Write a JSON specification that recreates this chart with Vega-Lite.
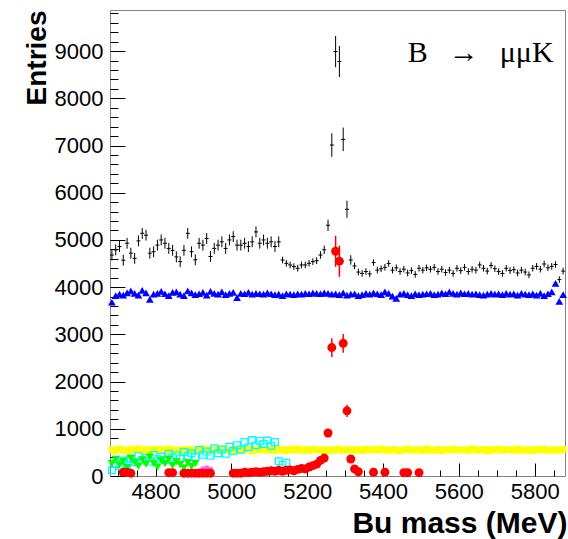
{
  "$schema": "https://vega.github.io/schema/vega-lite/v6.json",
  "width": 455,
  "height": 466,
  "autosize": {"type": "none"},
  "padding": {"left": 110, "top": 10, "right": 3, "bottom": 63},
  "background": "white",
  "config": {"view": {"stroke": "#8a8080", "strokeWidth": 1}},
  "resolve": {"scale": {"x": "independent", "y": "independent"}, "axis": {"x": "independent", "y": "independent"}},
  "datasets": {
    "black": [
      {"m":4685,"v":4680,"e":115},{"m":4695,"v":4790,"e":115},{"m":4705,"v":4860,"e":115},{"m":4715,"v":4570,"e":115},{"m":4725,"v":4930,"e":115},
      {"m":4735,"v":4720,"e":115},{"m":4745,"v":4610,"e":115},{"m":4755,"v":4980,"e":115},{"m":4765,"v":5140,"e":115},{"m":4775,"v":5100,"e":115},
      {"m":4785,"v":4720,"e":115},{"m":4795,"v":4750,"e":115},{"m":4805,"v":4890,"e":115},{"m":4815,"v":5000,"e":115},{"m":4825,"v":4930,"e":115},
      {"m":4835,"v":4820,"e":115},{"m":4845,"v":4780,"e":115},{"m":4855,"v":4640,"e":115},{"m":4865,"v":4540,"e":115},{"m":4875,"v":4780,"e":115},
      {"m":4885,"v":5140,"e":115},{"m":4895,"v":4750,"e":115},{"m":4905,"v":4580,"e":115},{"m":4915,"v":4930,"e":115},{"m":4925,"v":4890,"e":115},
      {"m":4935,"v":5030,"e":115},{"m":4945,"v":4650,"e":115},{"m":4955,"v":4820,"e":115},{"m":4965,"v":4890,"e":115},{"m":4975,"v":4960,"e":115},
      {"m":4985,"v":4820,"e":115},{"m":4995,"v":5000,"e":115},{"m":5005,"v":5070,"e":115},{"m":5015,"v":4890,"e":115},{"m":5025,"v":4890,"e":115},
      {"m":5035,"v":4930,"e":115},{"m":5045,"v":4860,"e":115},{"m":5055,"v":4960,"e":115},{"m":5065,"v":5170,"e":115},{"m":5075,"v":4930,"e":115},
      {"m":5085,"v":5000,"e":115},{"m":5095,"v":4930,"e":115},{"m":5105,"v":4960,"e":115},{"m":5115,"v":4860,"e":115},{"m":5125,"v":4960,"e":115},
      {"m":5135,"v":4575,"e":70},{"m":5145,"v":4505,"e":70},{"m":5155,"v":4470,"e":70},{"m":5165,"v":4435,"e":70},{"m":5175,"v":4400,"e":70},
      {"m":5185,"v":4470,"e":70},{"m":5195,"v":4470,"e":70},{"m":5205,"v":4505,"e":70},{"m":5215,"v":4540,"e":70},{"m":5225,"v":4560,"e":70},
      {"m":5235,"v":4680,"e":80},{"m":5245,"v":4790,"e":90},{"m":5255,"v":5310,"e":120},{"m":5265,"v":7010,"e":250},{"m":5275,"v":8990,"e":330},
      {"m":5285,"v":8780,"e":330},{"m":5295,"v":7130,"e":250},{"m":5305,"v":5650,"e":180},{"m":5315,"v":4575,"e":100},{"m":5325,"v":4450,"e":70},
      {"m":5335,"v":4320,"e":70},{"m":5345,"v":4290,"e":70},{"m":5355,"v":4330,"e":70},{"m":5365,"v":4280,"e":70},{"m":5375,"v":4520,"e":70},
      {"m":5385,"v":4360,"e":70},{"m":5395,"v":4390,"e":70},{"m":5405,"v":4420,"e":70},{"m":5415,"v":4500,"e":70},{"m":5425,"v":4360,"e":70},
      {"m":5435,"v":4410,"e":70},{"m":5445,"v":4330,"e":70},{"m":5455,"v":4380,"e":70},{"m":5465,"v":4300,"e":70},{"m":5475,"v":4350,"e":70},
      {"m":5485,"v":4270,"e":70},{"m":5495,"v":4400,"e":70},{"m":5505,"v":4360,"e":70},{"m":5515,"v":4410,"e":70},{"m":5525,"v":4380,"e":70},
      {"m":5535,"v":4420,"e":70},{"m":5545,"v":4330,"e":70},{"m":5555,"v":4380,"e":70},{"m":5565,"v":4310,"e":70},{"m":5575,"v":4360,"e":70},
      {"m":5585,"v":4290,"e":70},{"m":5595,"v":4400,"e":70},{"m":5605,"v":4350,"e":70},{"m":5615,"v":4420,"e":70},{"m":5625,"v":4330,"e":70},
      {"m":5635,"v":4380,"e":70},{"m":5645,"v":4360,"e":70},{"m":5655,"v":4470,"e":70},{"m":5665,"v":4400,"e":70},{"m":5675,"v":4340,"e":70},
      {"m":5685,"v":4460,"e":70},{"m":5695,"v":4390,"e":70},{"m":5705,"v":4330,"e":70},{"m":5715,"v":4290,"e":70},{"m":5725,"v":4400,"e":70},
      {"m":5735,"v":4350,"e":70},{"m":5745,"v":4370,"e":70},{"m":5755,"v":4300,"e":70},{"m":5765,"v":4360,"e":70},{"m":5775,"v":4320,"e":70},
      {"m":5785,"v":4260,"e":70},{"m":5795,"v":4400,"e":70},{"m":5805,"v":4440,"e":70},{"m":5815,"v":4380,"e":70},{"m":5825,"v":4490,"e":70},
      {"m":5835,"v":4410,"e":70},{"m":5845,"v":4440,"e":70},{"m":5855,"v":4480,"e":70},{"m":5865,"v":4160,"e":70},{"m":5875,"v":4340,"e":70}
    ],
    "blue": [
      {"m":4685,"v":3680},{"m":4695,"v":3820},{"m":4705,"v":3850},{"m":4715,"v":3830},{"m":4725,"v":3880},{"m":4735,"v":3920},{"m":4745,"v":3870},{"m":4755,"v":3830},
      {"m":4765,"v":3930},{"m":4775,"v":3880},{"m":4785,"v":3740},{"m":4795,"v":3850},{"m":4805,"v":3870},{"m":4815,"v":3910},{"m":4825,"v":3860},{"m":4835,"v":3820},
      {"m":4845,"v":3890},{"m":4855,"v":3900},{"m":4865,"v":3850},{"m":4875,"v":3820},{"m":4885,"v":3920},{"m":4895,"v":3880},{"m":4905,"v":3840},{"m":4915,"v":3860},
      {"m":4925,"v":3890},{"m":4935,"v":3830},{"m":4945,"v":3910},{"m":4955,"v":3870},{"m":4965,"v":3850},{"m":4975,"v":3900},{"m":4985,"v":3840},{"m":4995,"v":3870},
      {"m":5005,"v":3890},{"m":5015,"v":3780},{"m":5025,"v":3870},{"m":5035,"v":3860},{"m":5045,"v":3890},{"m":5055,"v":3850},{"m":5065,"v":3870},{"m":5075,"v":3860},
      {"m":5085,"v":3850},{"m":5095,"v":3880},{"m":5105,"v":3860},{"m":5115,"v":3840},{"m":5125,"v":3850},{"m":5135,"v":3820},{"m":5145,"v":3860},{"m":5155,"v":3850},
      {"m":5165,"v":3840},{"m":5175,"v":3860},{"m":5185,"v":3850},{"m":5195,"v":3870},{"m":5205,"v":3860},{"m":5215,"v":3880},{"m":5225,"v":3870},{"m":5235,"v":3860},
      {"m":5245,"v":3880},{"m":5255,"v":3870},{"m":5265,"v":3850},{"m":5275,"v":3860},{"m":5285,"v":3840},{"m":5295,"v":3880},{"m":5305,"v":3830},{"m":5315,"v":3850},
      {"m":5325,"v":3860},{"m":5335,"v":3820},{"m":5345,"v":3840},{"m":5355,"v":3870},{"m":5365,"v":3850},{"m":5375,"v":3880},{"m":5385,"v":3860},{"m":5395,"v":3840},
      {"m":5405,"v":3900},{"m":5415,"v":3870},{"m":5425,"v":3810},{"m":5435,"v":3760},{"m":5445,"v":3850},{"m":5455,"v":3870},{"m":5465,"v":3840},{"m":5475,"v":3820},
      {"m":5485,"v":3860},{"m":5495,"v":3840},{"m":5505,"v":3850},{"m":5515,"v":3860},{"m":5525,"v":3870},{"m":5535,"v":3840},{"m":5545,"v":3850},{"m":5555,"v":3880},
      {"m":5565,"v":3860},{"m":5575,"v":3900},{"m":5585,"v":3870},{"m":5595,"v":3850},{"m":5605,"v":3880},{"m":5615,"v":3860},{"m":5625,"v":3870},{"m":5635,"v":3850},
      {"m":5645,"v":3860},{"m":5655,"v":3840},{"m":5665,"v":3830},{"m":5675,"v":3850},{"m":5685,"v":3870},{"m":5695,"v":3850},{"m":5705,"v":3860},{"m":5715,"v":3840},
      {"m":5725,"v":3870},{"m":5735,"v":3850},{"m":5745,"v":3860},{"m":5755,"v":3830},{"m":5765,"v":3870},{"m":5775,"v":3850},{"m":5785,"v":3840},{"m":5795,"v":3860},
      {"m":5805,"v":3830},{"m":5815,"v":3870},{"m":5825,"v":3820},{"m":5835,"v":3860},{"m":5845,"v":3900},{"m":5855,"v":4080},{"m":5865,"v":3700},{"m":5875,"v":3840}
    ],
    "yellow": [
      {"m":4685,"v":560},{"m":4695,"v":540},{"m":4705,"v":575},{"m":4715,"v":550},{"m":4725,"v":530},{"m":4735,"v":565},{"m":4745,"v":555},{"m":4755,"v":580},
      {"m":4765,"v":545},{"m":4775,"v":560},{"m":4785,"v":535},{"m":4795,"v":570},{"m":4805,"v":550},{"m":4815,"v":565},{"m":4825,"v":540},{"m":4835,"v":575},
      {"m":4845,"v":555},{"m":4855,"v":530},{"m":4865,"v":560},{"m":4875,"v":545},{"m":4885,"v":570},{"m":4895,"v":550},{"m":4905,"v":540},{"m":4915,"v":565},
      {"m":4925,"v":580},{"m":4935,"v":555},{"m":4945,"v":545},{"m":4955,"v":560},{"m":4965,"v":535},{"m":4975,"v":570},{"m":4985,"v":550},{"m":4995,"v":560},
      {"m":5005,"v":545},{"m":5015,"v":575},{"m":5025,"v":540},{"m":5035,"v":555},{"m":5045,"v":565},{"m":5055,"v":530},{"m":5065,"v":560},{"m":5075,"v":550},
      {"m":5085,"v":575},{"m":5095,"v":545},{"m":5105,"v":560},{"m":5115,"v":540},{"m":5125,"v":570},{"m":5135,"v":555},{"m":5145,"v":535},{"m":5155,"v":565},
      {"m":5165,"v":550},{"m":5175,"v":580},{"m":5185,"v":545},{"m":5195,"v":560},{"m":5205,"v":540},{"m":5215,"v":570},{"m":5225,"v":555},{"m":5235,"v":545},
      {"m":5245,"v":565},{"m":5255,"v":530},{"m":5265,"v":560},{"m":5275,"v":550},{"m":5285,"v":575},{"m":5295,"v":540},{"m":5305,"v":555},{"m":5315,"v":565},
      {"m":5325,"v":545},{"m":5335,"v":560},{"m":5345,"v":535},{"m":5355,"v":570},{"m":5365,"v":550},{"m":5375,"v":560},{"m":5385,"v":545},{"m":5395,"v":575},
      {"m":5405,"v":555},{"m":5415,"v":540},{"m":5425,"v":565},{"m":5435,"v":550},{"m":5445,"v":530},{"m":5455,"v":560},{"m":5465,"v":570},{"m":5475,"v":545},
      {"m":5485,"v":555},{"m":5495,"v":560},{"m":5505,"v":540},{"m":5515,"v":575},{"m":5525,"v":550},{"m":5535,"v":545},{"m":5545,"v":565},{"m":5555,"v":535},
      {"m":5565,"v":560},{"m":5575,"v":555},{"m":5585,"v":570},{"m":5595,"v":545},{"m":5605,"v":550},{"m":5615,"v":560},{"m":5625,"v":540},{"m":5635,"v":575},
      {"m":5645,"v":555},{"m":5655,"v":545},{"m":5665,"v":565},{"m":5675,"v":530},{"m":5685,"v":560},{"m":5695,"v":550},{"m":5705,"v":570},{"m":5715,"v":545},
      {"m":5725,"v":555},{"m":5735,"v":560},{"m":5745,"v":540},{"m":5755,"v":575},{"m":5765,"v":550},{"m":5775,"v":545},{"m":5785,"v":565},{"m":5795,"v":535},
      {"m":5805,"v":560},{"m":5815,"v":555},{"m":5825,"v":570},{"m":5835,"v":545},{"m":5845,"v":550},{"m":5855,"v":560},{"m":5865,"v":540},{"m":5875,"v":565}
    ],
    "cyan": [
      {"m":4685,"v":120},{"m":4695,"v":260},{"m":4705,"v":210},{"m":4715,"v":330},{"m":4725,"v":240},{"m":4735,"v":360},{"m":4745,"v":290},{"m":4755,"v":420},
      {"m":4765,"v":330},{"m":4775,"v":380},{"m":4785,"v":300},{"m":4795,"v":450},{"m":4805,"v":360},{"m":4815,"v":410},{"m":4825,"v":340},{"m":4835,"v":470},
      {"m":4845,"v":390},{"m":4855,"v":440},{"m":4865,"v":370},{"m":4875,"v":510},{"m":4885,"v":420},{"m":4895,"v":480},{"m":4905,"v":400},{"m":4915,"v":550},
      {"m":4925,"v":450},{"m":4935,"v":520},{"m":4945,"v":430},{"m":4955,"v":590},{"m":4965,"v":480},{"m":4975,"v":560},{"m":4985,"v":470},{"m":4995,"v":620},
      {"m":5005,"v":530},{"m":5015,"v":650},{"m":5025,"v":560},{"m":5035,"v":720},{"m":5045,"v":610},{"m":5055,"v":760},{"m":5065,"v":650},{"m":5075,"v":740},
      {"m":5085,"v":680},{"m":5095,"v":750},{"m":5105,"v":640},{"m":5115,"v":720},{"m":5125,"v":310},{"m":5135,"v":240},{"m":5145,"v":280}
    ],
    "green": [
      {"m":4685,"v":260},{"m":4695,"v":350},{"m":4705,"v":230},{"m":4715,"v":310},{"m":4725,"v":180},{"m":4735,"v":380},{"m":4745,"v":290},{"m":4755,"v":210},
      {"m":4765,"v":340},{"m":4775,"v":250},{"m":4785,"v":400},{"m":4795,"v":270},{"m":4805,"v":190},{"m":4815,"v":330},{"m":4825,"v":260},{"m":4835,"v":360},
      {"m":4845,"v":220},{"m":4855,"v":300},{"m":4865,"v":240},{"m":4875,"v":170},{"m":4885,"v":280},{"m":4895,"v":200},{"m":4905,"v":260}
    ],
    "magenta": [
      {"m":4925,"v":150},{"m":4935,"v":170},{"m":4945,"v":140}
    ],
    "red": [
      {"m":4715,"v":80,"e":20},{"m":4725,"v":80,"e":20},{"m":4735,"v":60,"e":20},{"m":4835,"v":70,"e":20},{"m":4845,"v":70,"e":20},
      {"m":4875,"v":60,"e":20},{"m":4885,"v":60,"e":20},{"m":4895,"v":60,"e":20},{"m":4905,"v":60,"e":20},{"m":4915,"v":60,"e":20},
      {"m":4925,"v":60,"e":20},{"m":4935,"v":60,"e":20},{"m":4945,"v":60,"e":20},{"m":5005,"v":60,"e":20},{"m":5015,"v":60,"e":20},
      {"m":5025,"v":60,"e":20},{"m":5035,"v":80,"e":20},{"m":5045,"v":70,"e":20},{"m":5055,"v":80,"e":20},{"m":5065,"v":90,"e":20},
      {"m":5075,"v":80,"e":20},{"m":5085,"v":90,"e":20},{"m":5095,"v":100,"e":20},{"m":5105,"v":110,"e":20},{"m":5115,"v":100,"e":20},
      {"m":5125,"v":120,"e":20},{"m":5135,"v":100,"e":20},{"m":5145,"v":120,"e":20},{"m":5155,"v":130,"e":20},{"m":5165,"v":110,"e":20},
      {"m":5175,"v":140,"e":20},{"m":5185,"v":160,"e":20},{"m":5195,"v":150,"e":20},{"m":5205,"v":190,"e":25},{"m":5215,"v":220,"e":25},
      {"m":5225,"v":250,"e":30},{"m":5235,"v":330,"e":35},{"m":5245,"v":380,"e":40},{"m":5255,"v":910,"e":90},{"m":5265,"v":2720,"e":200},
      {"m":5275,"v":4760,"e":330},{"m":5285,"v":4550,"e":330},{"m":5295,"v":2810,"e":200},{"m":5305,"v":1380,"e":130},{"m":5315,"v":360,"e":40},
      {"m":5325,"v":150,"e":25},{"m":5335,"v":90,"e":20},{"m":5375,"v":80,"e":20},{"m":5405,"v":80,"e":20},{"m":5455,"v":70,"e":20},
      {"m":5465,"v":70,"e":20},{"m":5495,"v":70,"e":20}
    ],
    "label": [{"m": 5850, "v": 8767, "t": "B\u00a0\u00a0\u2009→\u00a0\u00a0\u2009μμK"}]
  },
  "layer": [
    {
      "data": {"name": "black"},
      "mark": {"type": "errorbar", "color": "black", "thickness": 1},
      "encoding": {
        "x": {"field": "m", "type": "quantitative", "scale": {"domain": [4680, 5880], "zero": false, "nice": false}, "axis": null},
        "y": {"field": "v", "type": "quantitative", "scale": {"domain": [0, 9870], "zero": false, "nice": false}, "axis": null},
        "yError": {"field": "e"}
      }
    },
    {
      "data": {"name": "black"},
      "mark": {"type": "tick", "orient": "horizontal", "size": 4, "thickness": 1, "color": "black", "opacity": 1},
      "encoding": {
        "x": {"field": "m", "type": "quantitative", "scale": {"domain": [4680, 5880], "zero": false, "nice": false},
          "axis": {"orient": "bottom", "values": [4800, 5000, 5200, 5400, 5600, 5800], "format": "d", "ticks": false, "tickSize": 0, "domain": false,
            "grid": true, "gridColor": "#000000", "gridWidth": 1, "gridOpacity": 1, "gridDash": [0, 453, 13, 10000],
            "labelFont": "Liberation Sans", "labelFontSize": 22, "labelColor": "#000", "labelPadding": 5, "labelFlush": false, "labelOverlap": false,
            "title": "Bu mass (MeV)", "titleFont": "Liberation Sans", "titleFontSize": 30, "titleFontWeight": "bold", "titleColor": "#000",
            "titleAnchor": "end", "titleAlign": "right", "titleBaseline": "alphabetic", "titleX": 457, "titleY": 56}},
        "y": {"field": "v", "type": "quantitative", "scale": {"domain": [0, 9870], "zero": false, "nice": false},
          "axis": {"orient": "left", "values": [0, 1000, 2000, 3000, 4000, 5000, 6000, 7000, 8000, 9000], "format": "d", "ticks": false, "tickSize": 0, "domain": false,
            "grid": true, "gridColor": "#000000", "gridWidth": 1, "gridOpacity": 1, "gridDash": [15, 10000],
            "labelFont": "Liberation Sans", "labelFontSize": 22, "labelColor": "#000", "labelPadding": 7, "labelFlush": false, "labelOverlap": false,
            "title": "Entries", "titleFont": "Liberation Sans", "titleFontSize": 28, "titleFontWeight": "bold", "titleColor": "#000",
            "titleAngle": 270, "titleAlign": "right", "titleBaseline": "middle", "titleX": -73, "titleY": 0}}
      }
    },
    {
      "data": {"name": "blue"},
      "mark": {"type": "point", "shape": "triangle-up", "filled": true, "size": 60, "color": "#0000ff", "opacity": 1},
      "encoding": {
        "x": {"field": "m", "type": "quantitative", "scale": {"domain": [4680, 5880], "zero": false, "nice": false}, "axis": null},
        "y": {"field": "v", "type": "quantitative", "scale": {"domain": [0, 9870], "zero": false, "nice": false}, "axis": null}
      }
    },
    {
      "data": {"name": "yellow"},
      "mark": {"type": "point", "shape": "square", "filled": true, "size": 45, "color": "#ffff00", "opacity": 1},
      "encoding": {
        "x": {"field": "m", "type": "quantitative", "scale": {"domain": [4680, 5880], "zero": false, "nice": false},
          "axis": {"orient": "bottom", "values": [4700, 4750, 4850, 4900, 4950, 5050, 5100, 5150, 5250, 5300, 5350, 5450, 5500, 5550, 5650, 5700, 5750, 5850], "labels": false, "ticks": false, "domain": false, "title": null,
            "grid": true, "gridColor": "#000000", "gridWidth": 1, "gridOpacity": 1, "gridDash": [0, 460, 6, 10000]}},
        "y": {"field": "v", "type": "quantitative", "scale": {"domain": [0, 9870], "zero": false, "nice": false},
          "axis": {"orient": "left", "values": [200, 400, 600, 800, 1200, 1400, 1600, 1800, 2200, 2400, 2600, 2800, 3200, 3400, 3600, 3800, 4200, 4400, 4600, 4800, 5200, 5400, 5600, 5800, 6200, 6400, 6600, 6800, 7200, 7400, 7600, 7800, 8200, 8400, 8600, 8800, 9200, 9400, 9600, 9800], "labels": false, "ticks": false, "domain": false, "title": null,
            "grid": true, "gridColor": "#000000", "gridWidth": 1, "gridOpacity": 1, "gridDash": [8, 10000]}}
      }
    },
    {
      "data": {"name": "cyan"},
      "mark": {"type": "point", "shape": "square", "filled": false, "size": 45, "strokeWidth": 1.3, "color": "#00ffff", "opacity": 1},
      "encoding": {
        "x": {"field": "m", "type": "quantitative", "scale": {"domain": [4680, 5880], "zero": false, "nice": false}, "axis": null},
        "y": {"field": "v", "type": "quantitative", "scale": {"domain": [0, 9870], "zero": false, "nice": false}, "axis": null}
      }
    },
    {
      "data": {"name": "green"},
      "mark": {"type": "point", "shape": "triangle-down", "filled": true, "size": 70, "color": "#00ff00", "opacity": 1},
      "encoding": {
        "x": {"field": "m", "type": "quantitative", "scale": {"domain": [4680, 5880], "zero": false, "nice": false}, "axis": null},
        "y": {"field": "v", "type": "quantitative", "scale": {"domain": [0, 9870], "zero": false, "nice": false}, "axis": null}
      }
    },
    {
      "data": {"name": "magenta"},
      "mark": {"type": "point", "shape": "circle", "filled": true, "size": 30, "color": "#ff66ff", "opacity": 1},
      "encoding": {
        "x": {"field": "m", "type": "quantitative", "scale": {"domain": [4680, 5880], "zero": false, "nice": false}, "axis": null},
        "y": {"field": "v", "type": "quantitative", "scale": {"domain": [0, 9870], "zero": false, "nice": false}, "axis": null}
      }
    },
    {
      "data": {"name": "red"},
      "mark": {"type": "errorbar", "color": "#ff0000", "thickness": 1.5},
      "encoding": {
        "x": {"field": "m", "type": "quantitative", "scale": {"domain": [4680, 5880], "zero": false, "nice": false}, "axis": null},
        "y": {"field": "v", "type": "quantitative", "scale": {"domain": [0, 9870], "zero": false, "nice": false}, "axis": null},
        "yError": {"field": "e"}
      }
    },
    {
      "data": {"name": "red"},
      "mark": {"type": "point", "shape": "circle", "filled": true, "size": 80, "color": "#ff0000", "opacity": 1},
      "encoding": {
        "x": {"field": "m", "type": "quantitative", "scale": {"domain": [4680, 5880], "zero": false, "nice": false}, "axis": null},
        "y": {"field": "v", "type": "quantitative", "scale": {"domain": [0, 9870], "zero": false, "nice": false}, "axis": null}
      }
    },
    {
      "data": {"name": "label"},
      "mark": {"type": "text", "align": "right", "baseline": "alphabetic", "font": "Liberation Serif", "fontSize": 30, "color": "#000"},
      "encoding": {
        "x": {"field": "m", "type": "quantitative", "scale": {"domain": [4680, 5880], "zero": false, "nice": false}, "axis": null},
        "y": {"field": "v", "type": "quantitative", "scale": {"domain": [0, 9870], "zero": false, "nice": false}, "axis": null},
        "text": {"field": "t"}
      }
    }
  ]
}
